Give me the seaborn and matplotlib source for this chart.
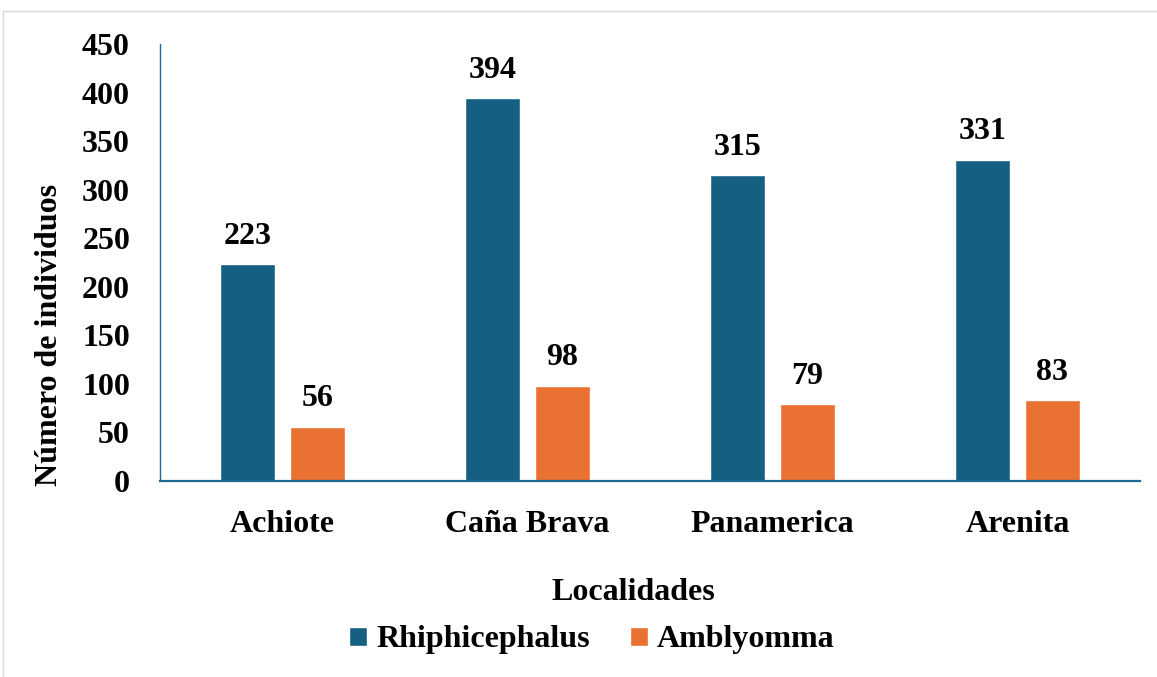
import matplotlib
matplotlib.use("Agg")
import matplotlib.pyplot as plt
from matplotlib.lines import Line2D
import seaborn as sns
import pandas as pd

# Tick counts per locality and genus
localidades = ["Achiote", "Caña Brava", "Panamerica", "Arenita"]
generos = ["Rhiphicephalus", "Amblyomma"]
rhiphicephalus = [223, 394, 315, 331]
amblyomma = [56, 98, 79, 83]
yticks = [0, 50, 100, 150, 200, 250, 300, 350, 400, 450]

colores = {"Rhiphicephalus": "#156082", "Amblyomma": "#E97132"}
eje_color = "#1f6a93"

df = pd.DataFrame({
    "Localidad": localidades * 2,
    "Género": [generos[0]] * len(localidades) + [generos[1]] * len(localidades),
    "Individuos": rhiphicephalus + amblyomma,
})

sns.set_theme(style="white")
plt.rcParams["font.family"] = ["Liberation Serif", "DejaVu Serif"]
plt.rcParams["font.weight"] = "bold"
plt.rcParams["text.color"] = "black"

W, H = 1157, 677
PX = 72 / 100  # points per pixel at 100 dpi
fig = plt.figure(figsize=(W / 100, H / 100), dpi=100)
ax = fig.add_axes([160 / W, 1 - 481 / H, 980 / W, 437 / H])

sns.barplot(data=df, x="Localidad", y="Individuos", hue="Género",
            hue_order=generos, order=localidades, palette=colores,
            width=0.571, gap=0.214, saturation=1, ax=ax, legend=True,
            errorbar=None)

fs = 23
# value labels above each bar
for cont in ax.containers:
    for bar in cont:
        v = bar.get_height()
        ax.annotate(f"{v:.0f}", (bar.get_x() + bar.get_width() / 2, v),
                    xytext=(0, 28 * PX), textcoords="offset points",
                    ha="center", va="center", fontsize=fs, fontweight="bold",
                    color="black")

ax.set_xlim(-0.5, 3.5)
ax.set_ylim(0, 450)
ax.set_yticks(yticks)
ax.set_yticklabels([str(t) for t in yticks], fontsize=fs, fontweight="bold")
ax.tick_params(axis="y", length=0, pad=30 * PX, colors="black")
ax.tick_params(axis="x", length=0, pad=29 * PX, labelsize=fs, colors="black")
for lab in ax.get_xticklabels():
    lab.set_fontweight("bold")

for s in ["top", "right"]:
    ax.spines[s].set_visible(False)
for s in ["left", "bottom"]:
    ax.spines[s].set_color(eje_color)
ax.spines["left"].set_linewidth(1.0)
ax.spines["bottom"].set_linewidth(1.6)

ax.set_xlabel("Localidades", fontsize=fs, fontweight="bold", color="black")
ax.xaxis.label.set_va("center")
ax.xaxis.set_label_coords((633 - 160) / 980, (481 - 592) / 437)
ax.set_ylabel("Número de individuos", fontsize=fs, fontweight="bold", color="black")
ax.yaxis.label.set_va("center")
ax.yaxis.label.set_ha("center")
ax.yaxis.set_label_coords((50 - 160) / 980, (481 - 335) / 437)

handles, labels = ax.get_legend_handles_labels()
ax.get_legend().remove()
fig.legend(handles, labels, loc="center", bbox_to_anchor=(592 / W, 1 - 640 / H),
           ncol=2, frameon=False, handlelength=0.55,
           handleheight=0.55, handletextpad=0.3, columnspacing=1.25,
           labelcolor="black", prop={"weight": "bold", "size": fs})

# light outer frame on the left and top edges
fig.add_artist(Line2D([3 / W, 3 / W], [0, 1 - 11 / H], transform=fig.transFigure,
                      color="#d9d9d9", lw=1))
fig.add_artist(Line2D([3 / W, 1], [1 - 11 / H, 1 - 11 / H], transform=fig.transFigure,
                      color="#d9d9d9", lw=1))

fig.savefig("out.png", dpi=100)
